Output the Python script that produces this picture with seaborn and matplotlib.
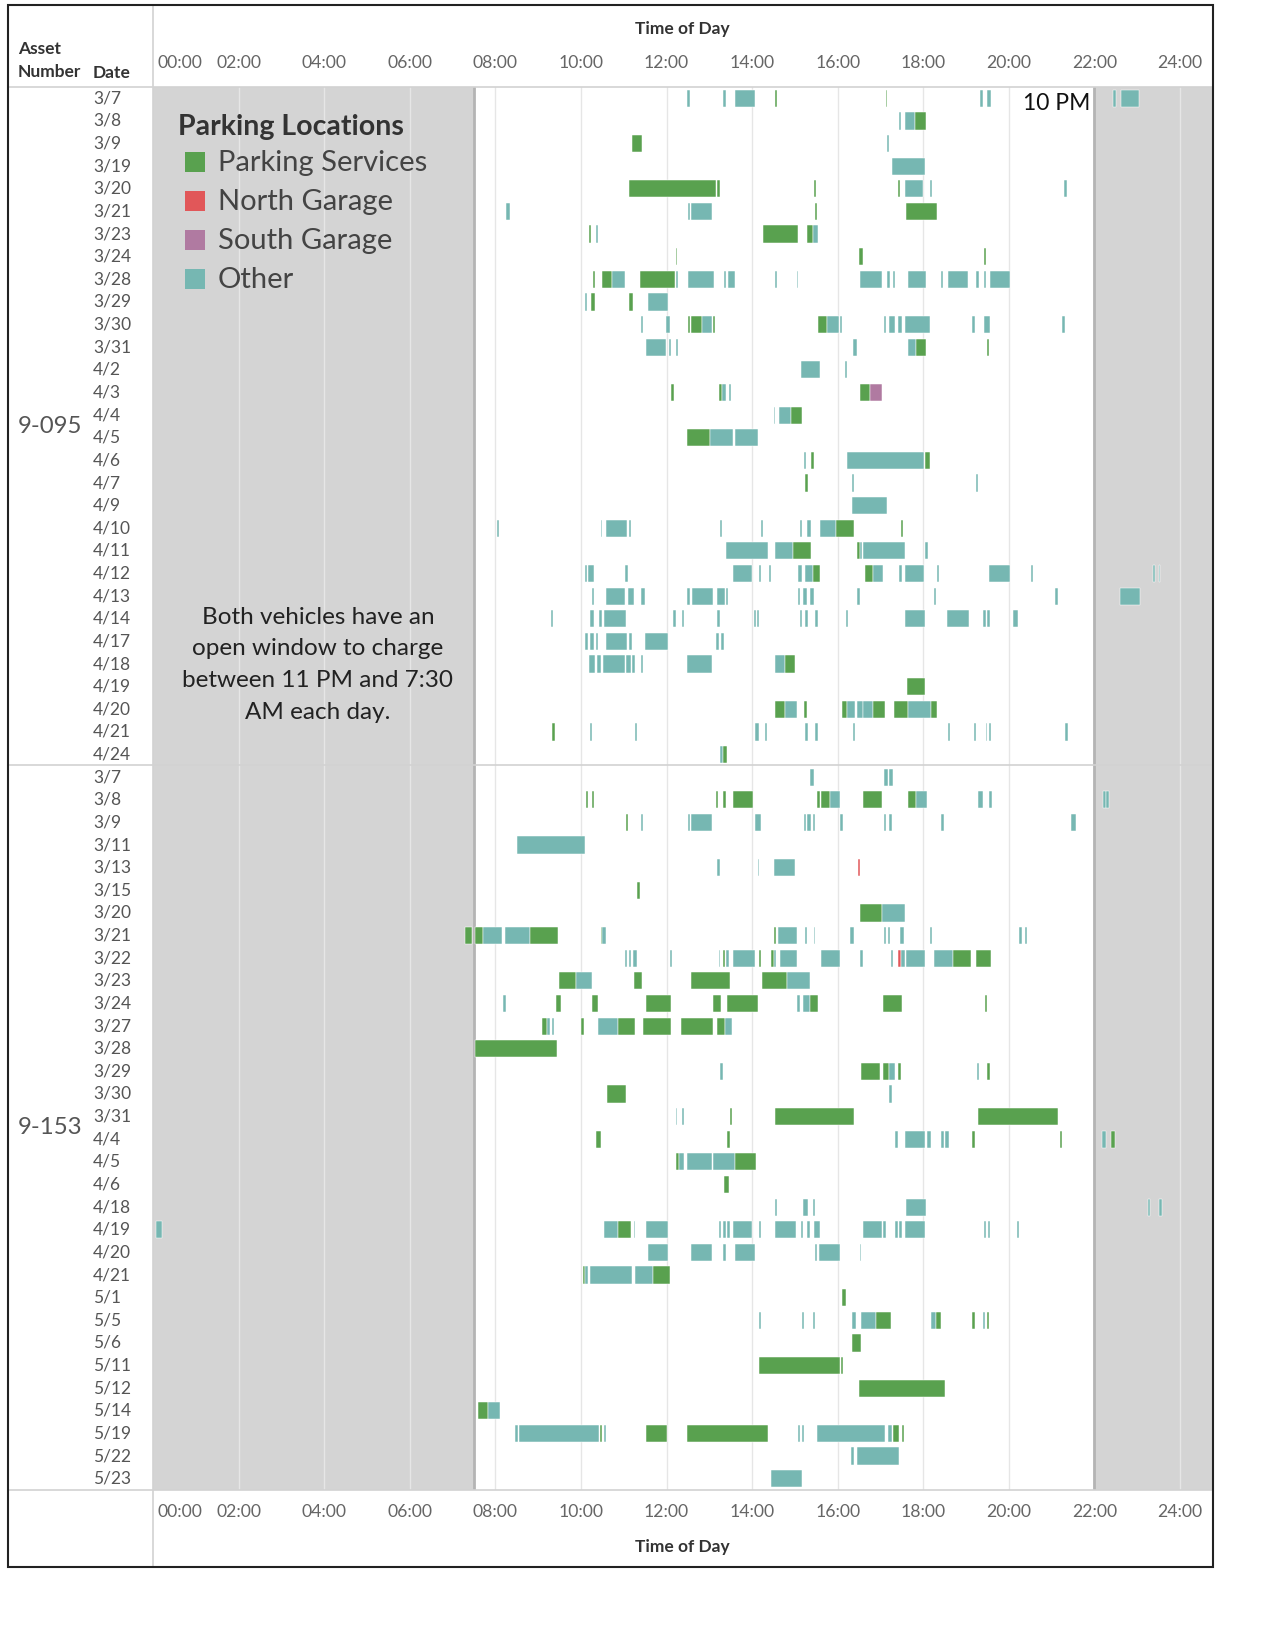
import matplotlib
matplotlib.use('Agg')
import matplotlib.pyplot as plt
import matplotlib.transforms as mtransforms
from matplotlib.lines import Line2D
from matplotlib.patches import Rectangle
import pandas as pd
import seaborn as sns

# dates (rows) per vehicle
dates_095 = ['3/7', '3/8', '3/9', '3/19', '3/20', '3/21', '3/23', '3/24', '3/28', '3/29',
             '3/30', '3/31', '4/2', '4/3', '4/4', '4/5', '4/6', '4/7', '4/9', '4/10',
             '4/11', '4/12', '4/13', '4/14', '4/17', '4/18', '4/19', '4/20', '4/21', '4/24']
dates_153 = ['3/7', '3/8', '3/9', '3/11', '3/13', '3/15', '3/20', '3/21', '3/22', '3/23',
             '3/24', '3/27', '3/28', '3/29', '3/30', '3/31', '4/4', '4/5', '4/6', '4/18',
             '4/19', '4/20', '4/21', '5/1', '5/5', '5/6', '5/11', '5/12', '5/14', '5/19',
             '5/22', '5/23']

# location codes
locations = ['Parking Services', 'North Garage', 'South Garage', 'Other']
loc_codes = {'P': 'Parking Services', 'N': 'North Garage', 'S': 'South Garage', 'O': 'Other'}
loc_colors = ['#59A14F', '#E15759', '#B07AA1', '#76B7B2']

hour_ticks = list(range(0, 25, 2))
hour_labels = ['%02d:00' % h for h in hour_ticks]

# (date, start hour, end hour, location)
segs_095 = [
    ('3/7', 12.49, 12.56, 'O'), ('3/7', 13.33, 13.39, 'O'), ('3/7', 13.59, 14.06, 'O'), ('3/7', 14.53, 14.57, 'P'),
    ('3/7', 17.12, 17.16, 'P'), ('3/7', 19.33, 19.39, 'O'), ('3/7', 19.48, 19.59, 'O'), ('3/7', 22.43, 22.50, 'O'),
    ('3/7', 22.63, 23.03, 'O'),
    ('3/8', 17.43, 17.47, 'O'), ('3/8', 17.57, 17.81, 'O'), ('3/8', 17.81, 18.07, 'P'),
    ('3/9', 11.19, 11.43, 'P'), ('3/9', 17.15, 17.19, 'O'),
    ('3/19', 17.27, 18.04, 'O'),
    ('3/20', 11.13, 13.15, 'P'), ('3/20', 13.17, 13.24, 'P'), ('3/20', 15.45, 15.49, 'P'), ('3/20', 17.41, 17.45, 'P'),
    ('3/20', 17.57, 18.00, 'O'), ('3/20', 18.15, 18.21, 'O'), ('3/20', 21.29, 21.36, 'O'),
    ('3/21', 8.26, 8.34, 'O'), ('3/21', 12.50, 12.55, 'O'), ('3/21', 12.57, 13.06, 'O'), ('3/21', 15.47, 15.51, 'P'),
    ('3/21', 17.60, 18.31, 'P'),
    ('3/23', 10.19, 10.23, 'P'), ('3/23', 10.35, 10.39, 'O'), ('3/23', 14.26, 15.07, 'P'), ('3/23', 15.29, 15.42, 'P'),
    ('3/23', 15.42, 15.54, 'O'),
    ('3/24', 12.21, 12.25, 'P'), ('3/24', 16.49, 16.59, 'P'), ('3/24', 19.42, 19.46, 'P'),
    ('3/28', 10.29, 10.34, 'P'), ('3/28', 10.49, 10.73, 'P'), ('3/28', 10.73, 11.02, 'O'), ('3/28', 11.38, 12.20, 'P'),
    ('3/28', 12.23, 12.27, 'O'), ('3/28', 12.51, 13.11, 'O'), ('3/28', 13.34, 13.40, 'O'), ('3/28', 13.43, 13.59, 'O'),
    ('3/28', 14.54, 14.59, 'O'), ('3/28', 15.04, 15.08, 'O'), ('3/28', 16.52, 17.03, 'O'), ('3/28', 17.16, 17.22, 'O'),
    ('3/28', 17.30, 17.34, 'O'), ('3/28', 17.64, 18.07, 'O'), ('3/28', 18.42, 18.46, 'O'), ('3/28', 18.58, 19.04, 'O'),
    ('3/28', 19.23, 19.31, 'O'), ('3/28', 19.42, 19.46, 'O'), ('3/28', 19.56, 20.03, 'O'),
    ('3/29', 10.09, 10.15, 'O'), ('3/29', 10.23, 10.32, 'P'), ('3/29', 11.13, 11.21, 'P'), ('3/29', 11.56, 12.04, 'O'),
    ('3/30', 11.40, 11.45, 'O'), ('3/30', 11.98, 12.07, 'O'), ('3/30', 12.51, 12.55, 'P'), ('3/30', 12.58, 12.82, 'P'),
    ('3/30', 12.82, 13.06, 'O'), ('3/30', 13.09, 13.13, 'P'), ('3/30', 15.55, 15.75, 'P'), ('3/30', 15.75, 16.03, 'O'),
    ('3/30', 16.06, 16.10, 'O'), ('3/30', 17.09, 17.14, 'O'), ('3/30', 17.20, 17.33, 'O'), ('3/30', 17.41, 17.50, 'O'),
    ('3/30', 17.57, 18.15, 'O'), ('3/30', 19.15, 19.22, 'O'), ('3/30', 19.42, 19.56, 'O'), ('3/30', 21.25, 21.31, 'O'),
    ('3/31', 11.53, 11.99, 'O'), ('3/31', 12.05, 12.10, 'O'), ('3/31', 12.21, 12.27, 'O'), ('3/31', 16.36, 16.45, 'O'),
    ('3/31', 17.64, 17.84, 'O'), ('3/31', 17.84, 18.07, 'P'), ('3/31', 19.49, 19.54, 'P'),
    ('4/2', 15.15, 15.58, 'O'), ('4/2', 16.17, 16.21, 'O'),
    ('4/3', 12.11, 12.17, 'P'), ('4/3', 13.22, 13.29, 'P'), ('4/3', 13.29, 13.39, 'O'), ('4/3', 13.46, 13.51, 'O'),
    ('4/3', 16.52, 16.76, 'P'), ('4/3', 16.76, 17.03, 'S'),
    ('4/4', 14.50, 14.54, 'O'), ('4/4', 14.64, 14.90, 'O'), ('4/4', 14.90, 15.17, 'P'),
    ('4/5', 12.48, 13.02, 'P'), ('4/5', 13.02, 13.55, 'O'), ('4/5', 13.59, 14.13, 'O'),
    ('4/6', 15.21, 15.25, 'O'), ('4/6', 15.38, 15.44, 'P'), ('4/6', 16.22, 18.02, 'O'), ('4/6', 18.05, 18.15, 'P'),
    ('4/7', 15.23, 15.30, 'P'), ('4/7', 16.33, 16.39, 'O'), ('4/7', 19.23, 19.28, 'O'),
    ('4/9', 16.33, 17.16, 'O'),
    ('4/10', 8.05, 8.09, 'O'), ('4/10', 10.46, 10.50, 'O'), ('4/10', 10.59, 11.08, 'O'), ('4/10', 11.13, 11.18, 'O'),
    ('4/10', 13.25, 13.29, 'O'), ('4/10', 14.20, 14.26, 'O'), ('4/10', 15.11, 15.17, 'O'), ('4/10', 15.29, 15.37, 'O'),
    ('4/10', 15.58, 15.96, 'O'), ('4/10', 15.96, 16.39, 'P'), ('4/10', 17.47, 17.53, 'P'),
    ('4/11', 13.39, 14.37, 'O'), ('4/11', 14.54, 14.95, 'O'), ('4/11', 14.95, 15.38, 'P'), ('4/11', 16.46, 16.51, 'P'),
    ('4/11', 16.51, 16.56, 'O'), ('4/11', 16.60, 17.57, 'O'), ('4/11', 18.05, 18.10, 'O'),
    ('4/12', 10.09, 10.13, 'O'), ('4/12', 10.17, 10.30, 'O'), ('4/12', 11.04, 11.10, 'O'), ('4/12', 13.55, 14.00, 'O'),
    ('4/12', 14.16, 14.20, 'O'), ('4/12', 14.40, 14.45, 'O'), ('4/12', 15.08, 15.17, 'O'), ('4/12', 15.24, 15.42, 'O'),
    ('4/12', 15.42, 15.58, 'P'), ('4/12', 16.63, 16.82, 'P'), ('4/12', 16.82, 17.06, 'O'), ('4/12', 17.43, 17.50, 'O'),
    ('4/12', 17.57, 18.02, 'O'), ('4/12', 18.32, 18.37, 'O'), ('4/12', 19.53, 20.03, 'O'), ('4/12', 20.52, 20.57, 'O'),
    ('4/12', 23.37, 23.41, 'O'), ('4/12', 23.50, 23.54, 'O'),
    ('4/13', 10.25, 10.30, 'O'), ('4/13', 10.59, 11.03, 'O'), ('4/13', 11.10, 11.23, 'O'), ('4/13', 11.40, 11.50, 'O'),
    ('4/13', 12.48, 12.56, 'O'), ('4/13', 12.60, 13.08, 'O'), ('4/13', 13.17, 13.37, 'O'), ('4/13', 13.39, 13.43, 'O'),
    ('4/13', 15.08, 15.12, 'O'), ('4/13', 15.20, 15.29, 'O'), ('4/13', 15.35, 15.45, 'O'), ('4/13', 16.46, 16.51, 'O'),
    ('4/13', 18.24, 18.29, 'O'), ('4/13', 21.08, 21.15, 'O'), ('4/13', 22.60, 23.06, 'O'),
    ('4/14', 9.30, 9.34, 'O'), ('4/14', 10.22, 10.30, 'O'), ('4/14', 10.42, 10.49, 'O'), ('4/14', 10.55, 11.06, 'O'),
    ('4/14', 12.15, 12.21, 'O'), ('4/14', 12.35, 12.42, 'O'), ('4/14', 13.19, 13.24, 'O'), ('4/14', 14.04, 14.10, 'O'),
    ('4/14', 14.12, 14.16, 'O'), ('4/14', 15.11, 15.17, 'O'), ('4/14', 15.24, 15.31, 'O'), ('4/14', 15.47, 15.54, 'O'),
    ('4/14', 16.19, 16.23, 'O'), ('4/14', 17.57, 18.05, 'O'), ('4/14', 18.55, 19.06, 'O'), ('4/14', 19.39, 19.46, 'O'),
    ('4/14', 19.50, 19.57, 'O'), ('4/14', 20.09, 20.22, 'O'),
    ('4/17', 10.09, 10.16, 'O'), ('4/17', 10.22, 10.30, 'O'), ('4/17', 10.35, 10.41, 'O'), ('4/17', 10.59, 11.08, 'O'),
    ('4/17', 11.13, 11.19, 'O'), ('4/17', 11.50, 12.04, 'O'), ('4/17', 13.15, 13.23, 'O'), ('4/17', 13.27, 13.35, 'O'),
    ('4/18', 10.19, 10.34, 'O'), ('4/18', 10.38, 10.47, 'O'), ('4/18', 10.52, 11.03, 'O'), ('4/18', 11.06, 11.16, 'O'),
    ('4/18', 11.19, 11.27, 'O'), ('4/18', 11.40, 11.46, 'O'), ('4/18', 12.48, 13.06, 'O'), ('4/18', 14.54, 14.77, 'O'),
    ('4/18', 14.77, 15.00, 'P'),
    ('4/19', 17.61, 18.04, 'P'),
    ('4/20', 14.54, 14.77, 'P'), ('4/20', 14.77, 15.04, 'O'), ('4/20', 15.21, 15.28, 'P'), ('4/20', 16.10, 16.22, 'P'),
    ('4/20', 16.22, 16.41, 'O'), ('4/20', 16.45, 16.58, 'O'), ('4/20', 16.60, 16.82, 'O'), ('4/20', 16.82, 17.10, 'P'),
    ('4/20', 17.31, 17.64, 'P'), ('4/20', 17.64, 18.18, 'O'), ('4/20', 18.18, 18.31, 'P'),
    ('4/21', 9.33, 9.40, 'P'), ('4/21', 10.22, 10.26, 'O'), ('4/21', 11.27, 11.31, 'O'), ('4/21', 14.06, 14.15, 'O'),
    ('4/21', 14.30, 14.34, 'O'), ('4/21', 15.24, 15.31, 'O'), ('4/21', 15.47, 15.54, 'O'), ('4/21', 16.36, 16.40, 'O'),
    ('4/21', 18.58, 18.62, 'O'), ('4/21', 19.18, 19.23, 'O'), ('4/21', 19.46, 19.50, 'O'), ('4/21', 19.54, 19.59, 'O'),
    ('4/21', 21.32, 21.37, 'O'),
    ('4/24', 13.25, 13.33, 'O'), ('4/24', 13.33, 13.41, 'P'),
]

segs_153 = [
    ('3/7', 15.35, 15.44, 'O'), ('3/7', 17.09, 17.17, 'O'), ('3/7', 17.19, 17.30, 'O'),
    ('3/8', 10.12, 10.16, 'P'), ('3/8', 10.25, 10.30, 'P'), ('3/8', 13.15, 13.21, 'P'), ('3/8', 13.33, 13.39, 'P'),
    ('3/8', 13.55, 14.03, 'P'), ('3/8', 15.51, 15.58, 'P'), ('3/8', 15.62, 15.82, 'P'), ('3/8', 15.82, 16.06, 'O'),
    ('3/8', 16.60, 17.03, 'P'), ('3/8', 17.64, 17.84, 'P'), ('3/8', 17.84, 18.08, 'O'), ('3/8', 19.29, 19.39, 'O'),
    ('3/8', 19.53, 19.60, 'O'), ('3/8', 22.20, 22.26, 'O'), ('3/8', 22.28, 22.35, 'O'),
    ('3/9', 11.05, 11.09, 'P'), ('3/9', 11.40, 11.44, 'O'), ('3/9', 12.51, 12.56, 'O'), ('3/9', 12.57, 13.06, 'O'),
    ('3/9', 14.06, 14.20, 'O'), ('3/9', 15.21, 15.25, 'O'), ('3/9', 15.29, 15.38, 'O'), ('3/9', 15.42, 15.48, 'O'),
    ('3/9', 16.06, 16.12, 'O'), ('3/9', 17.09, 17.14, 'O'), ('3/9', 17.19, 17.27, 'O'), ('3/9', 18.42, 18.48, 'O'),
    ('3/9', 21.45, 21.56, 'O'),
    ('3/11', 8.50, 10.09, 'O'),
    ('3/13', 13.19, 13.24, 'O'), ('3/13', 14.13, 14.17, 'O'), ('3/13', 14.50, 15.00, 'O'), ('3/13', 16.48, 16.52, 'N'),
    ('3/15', 11.32, 11.39, 'P'),
    ('3/20', 16.52, 17.03, 'P'), ('3/20', 17.03, 17.57, 'O'),
    ('3/21', 7.28, 7.46, 'P'), ('3/21', 7.52, 7.72, 'P'), ('3/21', 7.72, 8.16, 'O'), ('3/21', 8.23, 8.81, 'O'),
    ('3/21', 8.81, 9.47, 'P'), ('3/21', 10.46, 10.50, 'P'), ('3/21', 10.50, 10.58, 'O'), ('3/21', 14.50, 14.55, 'P'),
    ('3/21', 14.60, 15.04, 'O'), ('3/21', 15.23, 15.28, 'O'), ('3/21', 15.44, 15.48, 'O'), ('3/21', 16.29, 16.38, 'O'),
    ('3/21', 17.09, 17.14, 'O'), ('3/21', 17.17, 17.22, 'O'), ('3/21', 17.46, 17.56, 'O'), ('3/21', 18.15, 18.21, 'O'),
    ('3/21', 20.24, 20.30, 'O'), ('3/21', 20.38, 20.43, 'O'),
    ('3/22', 11.03, 11.07, 'O'), ('3/22', 11.12, 11.16, 'O'), ('3/22', 11.21, 11.31, 'O'), ('3/22', 12.08, 12.13, 'O'),
    ('3/22', 13.22, 13.25, 'O'), ('3/22', 13.32, 13.37, 'P'), ('3/22', 13.40, 13.47, 'O'), ('3/22', 13.55, 14.06, 'O'),
    ('3/22', 14.16, 14.20, 'P'), ('3/22', 14.43, 14.50, 'P'), ('3/22', 14.50, 14.56, 'O'), ('3/22', 14.65, 15.04, 'O'),
    ('3/22', 15.62, 16.06, 'O'), ('3/22', 16.52, 16.59, 'O'), ('3/22', 17.25, 17.30, 'O'), ('3/22', 17.41, 17.47, 'N'),
    ('3/22', 17.47, 17.57, 'O'), ('3/22', 17.60, 18.04, 'O'), ('3/22', 18.25, 18.69, 'O'), ('3/22', 18.69, 19.11, 'P'),
    ('3/22', 19.23, 19.59, 'P'),
    ('3/23', 9.48, 9.88, 'P'), ('3/23', 9.88, 10.27, 'O'), ('3/23', 11.24, 11.43, 'P'), ('3/23', 12.58, 13.48, 'P'),
    ('3/23', 14.24, 14.81, 'P'), ('3/23', 14.81, 15.36, 'O'),
    ('3/24', 8.19, 8.25, 'O'), ('3/24', 9.42, 9.54, 'P'), ('3/24', 10.25, 10.41, 'P'), ('3/24', 11.51, 12.10, 'P'),
    ('3/24', 13.09, 13.28, 'P'), ('3/24', 13.42, 14.13, 'P'), ('3/24', 15.04, 15.11, 'O'), ('3/24', 15.18, 15.35, 'O'),
    ('3/24', 15.35, 15.54, 'P'), ('3/24', 17.06, 17.50, 'P'), ('3/24', 19.45, 19.49, 'P'),
    ('3/27', 9.10, 9.21, 'P'), ('3/27', 9.21, 9.27, 'O'), ('3/27', 9.33, 9.37, 'O'), ('3/27', 10.01, 10.08, 'P'),
    ('3/27', 10.39, 10.86, 'O'), ('3/27', 10.86, 11.26, 'P'), ('3/27', 11.46, 12.10, 'P'), ('3/27', 12.34, 13.09, 'P'),
    ('3/27', 13.19, 13.36, 'P'), ('3/27', 13.36, 13.54, 'O'),
    ('3/28', 7.52, 9.44, 'P'),
    ('3/29', 13.25, 13.32, 'O'), ('3/29', 16.55, 17.00, 'P'), ('3/29', 17.06, 17.19, 'P'), ('3/29', 17.19, 17.33, 'O'),
    ('3/29', 17.41, 17.48, 'P'), ('3/29', 19.26, 19.30, 'O'), ('3/29', 19.49, 19.55, 'P'),
    ('3/30', 10.62, 11.06, 'P'), ('3/30', 17.19, 17.27, 'O'),
    ('3/31', 12.21, 12.25, 'O'), ('3/31', 12.37, 12.42, 'O'), ('3/31', 13.49, 13.53, 'P'), ('3/31', 14.53, 16.39, 'P'),
    ('3/31', 19.29, 21.15, 'P'),
    ('4/4', 10.35, 10.46, 'P'), ('4/4', 13.42, 13.49, 'P'), ('4/4', 17.33, 17.41, 'O'), ('4/4', 17.57, 18.04, 'O'),
    ('4/4', 18.08, 18.18, 'O'), ('4/4', 18.41, 18.48, 'O'), ('4/4', 18.50, 18.59, 'O'), ('4/4', 19.15, 19.20, 'P'),
    ('4/4', 21.19, 21.25, 'P'), ('4/4', 22.18, 22.26, 'O'), ('4/4', 22.38, 22.48, 'P'),
    ('4/5', 12.23, 12.29, 'P'), ('4/5', 12.29, 12.42, 'O'), ('4/5', 12.47, 13.06, 'O'), ('4/5', 13.08, 13.59, 'O'),
    ('4/5', 13.59, 14.10, 'P'),
    ('4/6', 13.35, 13.45, 'P'),
    ('4/18', 14.54, 14.59, 'O'), ('4/18', 15.20, 15.30, 'O'), ('4/18', 15.42, 15.48, 'O'), ('4/18', 17.60, 18.07, 'O'),
    ('4/18', 23.24, 23.30, 'O'), ('4/18', 23.51, 23.57, 'O'),
    ('4/19', 0.07, 0.21, 'O'), ('4/19', 10.55, 10.86, 'O'), ('4/19', 10.86, 11.16, 'P'), ('4/19', 11.23, 11.27, 'O'),
    ('4/19', 11.53, 12.04, 'O'), ('4/19', 13.22, 13.28, 'O'), ('4/19', 13.32, 13.38, 'O'), ('4/19', 13.41, 13.48, 'O'),
    ('4/19', 13.55, 14.00, 'O'), ('4/19', 14.16, 14.20, 'O'), ('4/19', 14.54, 15.02, 'O'), ('4/19', 15.15, 15.20, 'O'),
    ('4/19', 15.29, 15.35, 'O'), ('4/19', 15.44, 15.58, 'O'), ('4/19', 16.60, 17.03, 'O'), ('4/19', 17.06, 17.13, 'O'),
    ('4/19', 17.34, 17.41, 'O'), ('4/19', 17.43, 17.50, 'O'), ('4/19', 17.57, 18.05, 'O'), ('4/19', 19.42, 19.47, 'O'),
    ('4/19', 19.51, 19.55, 'O'), ('4/19', 20.20, 20.24, 'O'),
    ('4/20', 11.56, 12.04, 'O'), ('4/20', 12.58, 13.06, 'O'), ('4/20', 13.33, 13.38, 'O'), ('4/20', 13.59, 14.06, 'O'),
    ('4/20', 15.47, 15.51, 'O'), ('4/20', 15.56, 16.06, 'O'), ('4/20', 16.51, 16.55, 'O'),
    ('4/21', 10.05, 10.10, 'P'), ('4/21', 10.10, 10.16, 'O'), ('4/21', 10.22, 11.19, 'O'), ('4/21', 11.26, 11.68, 'O'),
    ('4/21', 11.68, 12.08, 'P'),
    ('5/1', 16.10, 16.19, 'P'),
    ('5/5', 14.16, 14.20, 'O'), ('5/5', 15.17, 15.21, 'O'), ('5/5', 15.42, 15.46, 'O'), ('5/5', 16.33, 16.42, 'O'),
    ('5/5', 16.55, 16.89, 'O'), ('5/5', 16.89, 17.24, 'P'), ('5/5', 18.18, 18.29, 'O'), ('5/5', 18.29, 18.41, 'P'),
    ('5/5', 19.15, 19.20, 'P'), ('5/5', 19.39, 19.45, 'O'), ('5/5', 19.48, 19.54, 'P'),
    ('5/6', 16.33, 16.55, 'P'),
    ('5/11', 14.16, 16.06, 'P'), ('5/11', 16.08, 16.12, 'P'),
    ('5/12', 16.49, 18.51, 'P'),
    ('5/14', 7.60, 7.82, 'P'), ('5/14', 7.82, 8.10, 'O'),
    ('5/19', 8.47, 8.52, 'O'), ('5/19', 8.56, 10.42, 'O'), ('5/19', 10.45, 10.49, 'P'), ('5/19', 10.55, 10.59, 'O'),
    ('5/19', 11.51, 12.01, 'P'), ('5/19', 12.47, 14.37, 'P'), ('5/19', 15.08, 15.11, 'O'), ('5/19', 15.17, 15.22, 'O'),
    ('5/19', 15.51, 17.10, 'O'), ('5/19', 17.17, 17.28, 'O'), ('5/19', 17.30, 17.44, 'P'), ('5/19', 17.50, 17.54, 'P'),
    ('5/22', 16.31, 16.38, 'O'), ('5/22', 16.45, 17.43, 'O'),
    ('5/23', 14.44, 15.16, 'O'),
]

# build one table
d1 = pd.DataFrame(segs_095, columns=['date', 'start', 'end', 'loc'])
d1['row'] = d1['date'].map({d: i for i, d in enumerate(dates_095)})
d2 = pd.DataFrame(segs_153, columns=['date', 'start', 'end', 'loc'])
d2['row'] = d2['date'].map({d: i + len(dates_095) for i, d in enumerate(dates_153)})
df = pd.concat([d1, d2], ignore_index=True)
df['location'] = df['loc'].map(loc_codes)
palette = dict(zip(locations, loc_colors))
n_rows = len(dates_095) + len(dates_153)

sns.set_style('white')
plt.rcParams['font.family'] = ['Lato', 'DejaVu Sans']

W, H = 1268, 1635
fig = plt.figure(figsize=(W / 100, H / 100), dpi=100)


def fx(px):
    return px / W


def fy(py):
    return 1 - py / H


ax = fig.add_axes([fx(153), fy(1490), fx(1213) - fx(153), fy(87) - fy(1490)])
x_max = 24.77
ax.set_xlim(0, x_max)
ax.set_ylim(n_rows - 0.5, -0.5)

# shaded overnight window
ax.axvspan(0, 7.5, color='#d4d4d4', zorder=0, lw=0)
ax.axvspan(22, x_max, color='#d4d4d4', zorder=0, lw=0)
for h in hour_ticks[1:]:
    ax.axvline(h, color='#e6e6e6', lw=1, zorder=0.5)
ax.axvline(7.5, color='#b4b4b4', lw=2, zorder=1)
ax.axvline(22, color='#b4b4b4', lw=2, zorder=1)

ax.barh(df['row'], df['end'] - df['start'], left=df['start'], height=0.76,
        color=df['location'].map(palette), edgecolor='white', linewidth=0.35, zorder=3)

ax.set_xticks([])
ax.set_yticks([])
for s in ax.spines.values():
    s.set_visible(False)

# axis labels (top and bottom)
tx = mtransforms.blended_transform_factory(ax.transData, fig.transFigure)
for h, lab in zip(hour_ticks, hour_labels):
    xx = h if h > 0 else 0.1
    ha = 'center' if h > 0 else 'left'
    for yy in (63, 1512):
        ax.text(xx, fy(yy), lab, transform=tx, ha=ha, va='center', fontsize=12.7, color='#666666')
hdr = dict(fontsize=12.5, fontweight='bold', color='#333333', va='center')
fig.text(fx(682), fy(29), 'Time of Day', ha='center', **hdr)
fig.text(fx(682), fy(1547), 'Time of Day', ha='center', **hdr)
fig.text(fx(18), fy(49), 'Asset', ha='left', **hdr)
fig.text(fx(18), fy(72), 'Number', ha='left', **hdr)
fig.text(fx(93), fy(73), 'Date', ha='left', **hdr)

# row labels
ty = mtransforms.blended_transform_factory(fig.transFigure, ax.transData)
for i, d in enumerate(dates_095 + dates_153):
    ax.text(fx(93), i, d, transform=ty, ha='left', va='center', fontsize=12.5, color='#555555')
ax.text(fx(18), (len(dates_095) - 1) / 2, '9-095', transform=ty, ha='left', va='center',
        fontsize=17.3, color='#555555')
ax.text(fx(18), len(dates_095) + (len(dates_153) - 1) / 2, '9-153', transform=ty, ha='left',
        va='center', fontsize=17.3, color='#555555')

# frame lines
grid_c = '#d2d2d2'
for (x0, y0, x1, y1) in [(8, 87, 1213, 87), (8, 765, 1213, 765), (8, 1490, 1213, 1490), (153, 5, 153, 1567)]:
    fig.add_artist(Line2D([fx(x0), fx(x1)], [fy(y0), fy(y1)], color=grid_c, lw=1.2, zorder=5))
fig.add_artist(Rectangle((fx(8), fy(1567)), fx(1213) - fx(8), fy(5) - fy(1567), fill=False,
                         edgecolor='#222222', lw=1.5, zorder=6))

# legend
fig.text(fx(178), fy(127), 'Parking Locations', ha='left', va='center', fontsize=20.5,
         fontweight='bold', color='#333333')
for k, (name, col) in enumerate(zip(locations, loc_colors)):
    yc = 162 + 39 * k
    fig.add_artist(Rectangle((fx(185), fy(yc + 10)), fx(20), fy(0) - fy(20), facecolor=col,
                             edgecolor='none', zorder=6))
    fig.text(fx(218), fy(yc + 1), name, ha='left', va='center', fontsize=21, color='#444444')

# annotations
note = ['Both vehicles have an', 'open window to charge', 'between 11 PM and 7:30', 'AM each day.']
for k, line in enumerate(note):
    fig.text(fx(318), fy(617 + 31.8 * k), line, ha='center', va='center', fontsize=17.5, color='#222222')
fig.text(fx(1090), fy(103), '10 PM', ha='right', va='center', fontsize=16.5, color='#111111')

fig.savefig('out.png', dpi=100, facecolor='white')
